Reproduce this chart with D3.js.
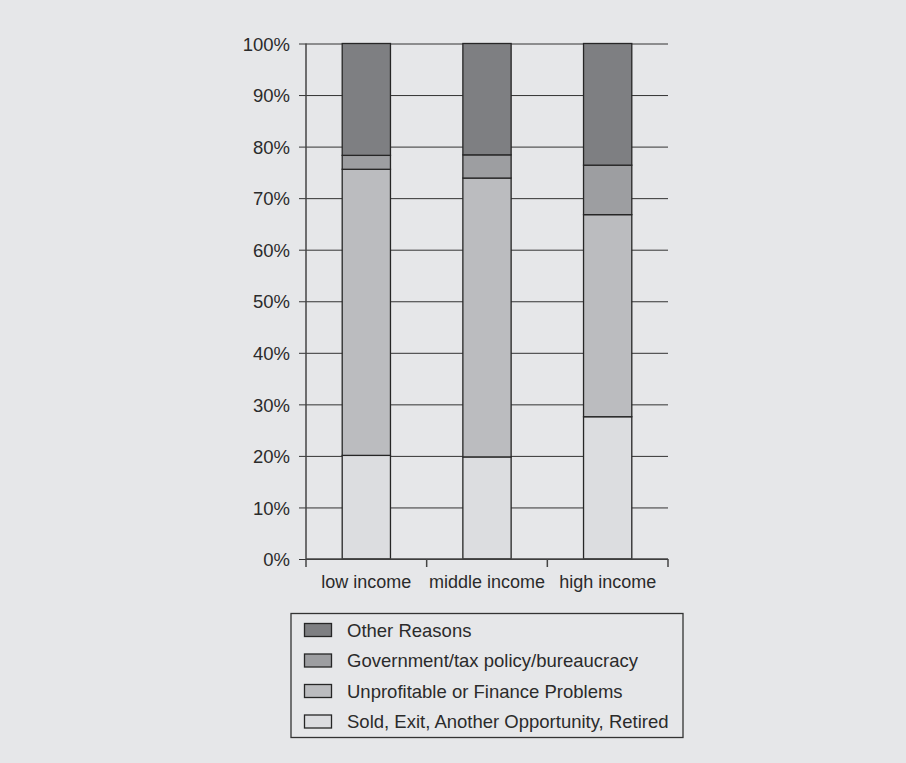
<!DOCTYPE html>
<html>
<head>
<meta charset="utf-8">
<script src="https://cdn.jsdelivr.net/npm/d3@7"></script>
<style>
  html, body { margin: 0; padding: 0; background: #e6e7e9; }
  svg { display: block; }
  text { font-family: "Liberation Sans", Arial, sans-serif; fill: #2b2b2b; }
</style>
</head>
<body>
<svg id="chart" width="906" height="763"></svg>
<script>
// Income groups along the x axis
const categories = ["low income", "middle income", "high income"];

// Share of business exits by reason (percent), stacked bottom to top
const soldExit      = [20.1, 19.8, 27.6];
const unprofitable  = [55.5, 54.1, 39.2];
const government    = [2.7, 4.5, 9.6];
const otherReasons  = [21.7, 21.6, 23.6];

const seriesNames = [
  "Sold, Exit, Another Opportunity, Retired",
  "Unprofitable or Finance Problems",
  "Government/tax policy/bureaucracy",
  "Other Reasons"
];
const seriesValues = [soldExit, unprofitable, government, otherReasons];
const seriesColors = ["#dcdde0", "#bbbcbf", "#9d9ea1", "#7e7f82"];

const yTicks = [0, 10, 20, 30, 40, 50, 60, 70, 80, 90, 100];

const svg = d3.select("#chart");

const plot = { left: 306, right: 668, top: 43.5, bottom: 559 };

const x = d3.scaleBand()
  .domain(categories)
  .range([plot.left, plot.right])
  .paddingInner(0.6)
  .paddingOuter(0.3);

const y = d3.scaleLinear()
  .domain([0, 100])
  .range([plot.bottom, plot.top]);

// Build rows for d3.stack
const rows = categories.map((c, i) => {
  const r = { category: c };
  seriesNames.forEach((n, k) => { r[n] = seriesValues[k][i]; });
  return r;
});
const stacked = d3.stack().keys(seriesNames)(rows);

// Horizontal gridlines with outward tick marks
const yAxis = d3.axisLeft(y)
  .tickValues(yTicks)
  .tickFormat(d => d + "%")
  .tickSize(-(plot.right - plot.left))
  .tickSizeOuter(0)
  .tickPadding(16);

const gy = svg.append("g")
  .attr("transform", `translate(${plot.left},0)`)
  .call(yAxis);
gy.select(".domain").remove();
gy.selectAll(".tick line")
  .attr("x1", -7)
  .attr("stroke", "#333")
  .attr("stroke-width", 1);
gy.selectAll(".tick text")
  .attr("x", -16)
  .attr("dy", "0.36em")
  .style("font-size", "18.5px")
  .style("fill", "#2b2b2b");

// Stacked bars
svg.append("g")
  .selectAll("g")
  .data(stacked)
  .join("g")
  .attr("fill", (d, i) => seriesColors[i])
  .selectAll("rect")
  .data(d => d)
  .join("rect")
  .attr("x", d => x(d.data.category))
  .attr("width", x.bandwidth())
  .attr("y", d => y(d[1]))
  .attr("height", d => y(d[0]) - y(d[1]))
  .attr("stroke", "#262626")
  .attr("stroke-width", 1.3);

// Vertical axis line
svg.append("line")
  .attr("x1", plot.left).attr("x2", plot.left)
  .attr("y1", y(100)).attr("y2", y(0))
  .attr("stroke", "#444")
  .attr("stroke-width", 1.5);

// Category axis: ticks sit at band boundaries
const xAxis = d3.axisBottom(x).tickSize(0).tickPadding(0);
const gx = svg.append("g")
  .attr("transform", `translate(0,${plot.bottom})`)
  .call(xAxis);
gx.select(".domain")
  .attr("d", `M${plot.left},0H${plot.right}`)
  .attr("stroke", "#444")
  .attr("stroke-width", 1.5);
gx.selectAll(".tick text")
  .attr("y", 29)
  .attr("dy", 0)
  .style("font-size", "18px")
  .style("fill", "#2b2b2b");

const boundaries = categories.map(c => x(c) - x.step() * x.paddingOuter()).concat([plot.right]);
gx.selectAll(".bnd")
  .data(boundaries)
  .join("line")
  .attr("class", "bnd")
  .attr("x1", d => d).attr("x2", d => d)
  .attr("y1", 0).attr("y2", 8)
  .attr("stroke", "#444")
  .attr("stroke-width", 1.5);

// Legend, top entry first
const legend = svg.append("g").attr("transform", "translate(291,613.5)");
legend.append("rect")
  .attr("width", 392).attr("height", 124)
  .attr("fill", "none")
  .attr("stroke", "#333")
  .attr("stroke-width", 1.3);

const legendOrder = [3, 2, 1, 0];
const items = legend.selectAll(".item")
  .data(legendOrder)
  .join("g")
  .attr("class", "item")
  .attr("transform", (d, i) => `translate(0,${16.5 + i * 30.5})`);
items.append("rect")
  .attr("x", 13.5).attr("y", -6.5)
  .attr("width", 27).attr("height", 13)
  .attr("fill", d => seriesColors[d])
  .attr("stroke", "#262626")
  .attr("stroke-width", 1.3);
items.append("text")
  .attr("x", 56)
  .attr("y", 6.5)
  .style("font-size", "18.5px")
  .text(d => seriesNames[d]);
</script>
</body>
</html>
